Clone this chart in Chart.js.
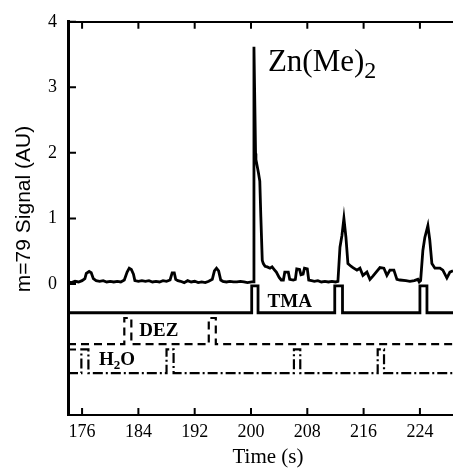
<!DOCTYPE html>
<html>
<head>
<meta charset="utf-8">
<script src="https://cdn.jsdelivr.net/npm/chart.js@4.4.1/dist/chart.umd.min.js"></script>
<style>
  body { margin: 0; background: #fff; }
</style>
</head>
<body>
<canvas id="chart" width="453" height="471"></canvas>
<script>
// m=79 signal trace
var signalTime = [174.0, 174.5, 175.0, 175.5, 176.0, 176.4, 176.6, 177.0, 177.3, 177.6, 178.0, 178.5, 179.0, 179.5,
  180.0, 180.5, 181.0, 181.5, 182.0, 182.4, 182.7, 183.0, 183.3, 183.5, 184.0, 184.5, 185.0, 185.5, 186.0, 186.5,
  187.0, 187.5, 188.0, 188.5, 188.8, 189.1, 189.3, 189.6, 190.0, 190.5, 191.0, 191.5, 192.0, 192.5, 193.0, 193.5,
  194.0, 194.5, 194.8, 195.1, 195.4, 195.7, 196.0, 196.5, 197.0, 197.5, 198.0, 198.5, 199.0, 199.5, 200.1, 200.4,
  200.42, 200.65, 200.7, 201.05, 201.25, 201.4, 201.6, 201.75, 202.0, 202.3, 202.7, 203.0, 203.3, 203.6, 204.0,
  204.3, 204.6, 204.8, 205.3, 205.5, 206.0, 206.3, 206.5, 206.9, 207.1, 207.4, 207.6, 208.0, 208.2, 208.6, 209.0,
  209.5, 210.0, 210.5, 211.0, 211.5, 212.0, 212.35, 212.64, 212.92, 213.2, 213.49, 213.77, 214.2, 214.48, 215.05,
  215.48, 215.9, 216.47, 216.9, 217.32, 218.32, 218.88, 219.31, 219.74, 220.3, 220.73, 221.16, 222.0, 222.58,
  223.2, 223.71, 223.9, 224.1, 224.42, 224.7, 225.13, 225.4, 225.7, 226.13, 226.84, 227.26, 227.83, 228.26, 228.7];
var signalValue = [0.03, 0.02, 0.04, 0.03, 0.05, 0.08, 0.16, 0.19, 0.17, 0.08, 0.05, 0.04, 0.05, 0.03,
  0.04, 0.03, 0.04, 0.03, 0.06, 0.18, 0.24, 0.22, 0.15, 0.05, 0.04, 0.05, 0.04, 0.05, 0.03, 0.04,
  0.03, 0.05, 0.04, 0.06, 0.17, 0.17, 0.07, 0.05, 0.04, 0.02, 0.05, 0.03, 0.04, 0.02, 0.03, 0.02,
  0.04, 0.07, 0.20, 0.24, 0.20, 0.06, 0.04, 0.03, 0.04, 0.03, 0.03, 0.04, 0.03, 0.02, 0.03, 0.03,
  3.62, 1.99, 1.90, 1.70, 1.57, 1.02, 0.36, 0.31, 0.27, 0.26, 0.24, 0.26, 0.22, 0.18, 0.10,
  0.06, 0.06, 0.18, 0.18, 0.07, 0.06, 0.07, 0.23, 0.22, 0.14, 0.15, 0.24, 0.23, 0.06, 0.05, 0.04,
  0.05, 0.03, 0.04, 0.03, 0.04, 0.03, 0.04, 0.56, 0.74, 1.00, 0.71, 0.31, 0.27, 0.25, 0.21,
  0.24, 0.13, 0.18, 0.07, 0.12, 0.25, 0.24, 0.13, 0.21, 0.21, 0.07, 0.06, 0.05, 0.04,
  0.05, 0.07, 0.03, 0.05, 0.51, 0.71, 0.89, 0.67, 0.31, 0.24, 0.24, 0.21, 0.09, 0.18, 0.20];

// precursor pulse traces
var tmaTime = [174, 200.1, 200.1, 201.0, 201.0, 211.9, 211.9, 213.0, 213.0, 224.0, 224.0, 225.0, 225.0, 228.7];
var tmaValue = [-0.44, -0.44, -0.03, -0.03, -0.44, -0.44, -0.03, -0.03, -0.44, -0.44, -0.03, -0.03, -0.44, -0.44];
var dezTime = [174, 182.0, 182.0, 183.0, 183.0, 194.0, 194.0, 195.0, 195.0, 228.7];
var dezValue = [-0.92, -0.92, -0.52, -0.52, -0.92, -0.92, -0.52, -0.52, -0.92, -0.92];
var h2oTime = [174, 175.9, 175.9, 176.9, 176.9, 188.0, 188.0, 189.0, 189.0, 206.1, 206.1, 207.0, 207.0,
  218.0, 218.0, 218.9, 218.9, 228.7];
var h2oValue = [-1.36, -1.36, -1.0, -1.0, -1.36, -1.36, -1.0, -1.0, -1.36, -1.36, -1.0, -1.0, -1.36,
  -1.36, -1.0, -1.0, -1.36, -1.36];

var xTicks = [176, 184, 192, 200, 208, 216, 224];
var yTicks = [-2, -1, 0, 1, 2, 3, 4];

function points(xs, ys) {
    return xs.map(function (v, i) { return {x: v, y: ys[i]}; });
}

var serif = '"Liberation Serif", "Times New Roman", serif';

var decor = {
    id: 'decor',
    afterDraw: function (chart) {
        var ctx = chart.ctx, a = chart.chartArea;
        var x = chart.scales.x, y = chart.scales.y;
        ctx.save();
        ctx.strokeStyle = '#000';
        ctx.lineWidth = 2;
        ctx.beginPath();
        xTicks.forEach(function (v) {
            var px = x.getPixelForValue(v);
            ctx.moveTo(px, a.bottom);
            ctx.lineTo(px, a.bottom - 7);
            ctx.moveTo(px, a.top);
            ctx.lineTo(px, a.top + 7);
        });
        yTicks.slice(1).forEach(function (v) {
            var py = y.getPixelForValue(v);
            ctx.moveTo(a.left, py);
            ctx.lineTo(a.left + 8, py);
        });
        ctx.stroke();

        ctx.fillStyle = '#000';
        ctx.textBaseline = 'alphabetic';
        ctx.textAlign = 'left';

        // Zn(Me)2
        var zx = x.getPixelForValue(202.4), zy = y.getPixelForValue(3.25);
        ctx.font = '31px ' + serif;
        ctx.fillText('Zn(Me)', zx, zy);
        var w = ctx.measureText('Zn(Me)').width;
        ctx.font = '24px ' + serif;
        ctx.fillText('2', zx + w, zy + 7);

        ctx.textBaseline = 'middle';
        ctx.font = 'bold 19px ' + serif;
        ctx.textAlign = 'center';
        ctx.fillText('TMA', x.getPixelForValue(205.5), y.getPixelForValue(-0.28));
        ctx.fillText('DEZ', x.getPixelForValue(186.9), y.getPixelForValue(-0.72));

        ctx.textAlign = 'left';
        var hx = x.getPixelForValue(178.4), hy = y.getPixelForValue(-1.16);
        ctx.fillText('H', hx, hy);
        var hw = ctx.measureText('H').width;
        ctx.font = 'bold 13px ' + serif;
        ctx.fillText('2', hx + hw, hy + 6);
        var sw = ctx.measureText('2').width;
        ctx.font = 'bold 19px ' + serif;
        ctx.fillText('O', hx + hw + sw, hy);

        // axis titles
        ctx.font = '21px ' + serif;
        ctx.textAlign = 'center';
        ctx.fillText('Time (s)', 268, 457);

        ctx.translate(24, 209);
        ctx.rotate(-Math.PI / 2);
        ctx.font = '21px "Liberation Sans", Arial, sans-serif';
        ctx.fillText('m=79 Signal (AU)', 0, 0);
        ctx.restore();
    }
};

new Chart(document.getElementById('chart'), {
    type: 'line',
    data: {
        datasets: [{
            data: points(signalTime, signalValue),
            borderColor: '#000',
            borderWidth: 2.8
        }, {
            data: points(tmaTime, tmaValue),
            borderColor: '#000',
            borderWidth: 2.8
        }, {
            data: points(dezTime, dezValue),
            borderColor: '#000',
            borderWidth: 2.2,
            borderDash: [8, 5]
        }, {
            data: points(h2oTime, h2oValue),
            borderColor: '#000',
            borderWidth: 2.2,
            borderDash: [10, 3, 2, 3]
        }]
    },
    options: {
        responsive: false,
        animation: false,
        layout: {padding: {top: 21, left: 0, right: 0, bottom: 0}},
        elements: {
            point: {radius: 0},
            line: {tension: 0, fill: false}
        },
        plugins: {
            legend: {display: false},
            tooltip: {enabled: false}
        },
        scales: {
            x: {
                type: 'linear',
                min: 174,
                max: 228.7,
                afterBuildTicks: function (s) { s.ticks = xTicks.map(function (v) { return {value: v}; }); },
                afterFit: function (s) { s.height = 56; },
                grid: {display: false, drawTicks: false},
                border: {display: true, color: '#000', width: 2},
                ticks: {
                    color: '#000',
                    padding: 6,
                    maxRotation: 0,
                    font: {family: serif, size: 18}
                }
            },
            x2: {
                type: 'linear',
                position: 'top',
                min: 174,
                max: 228.7,
                afterFit: function (s) { s.height = 0; },
                grid: {display: false, drawTicks: false},
                border: {display: true, color: '#000', width: 2},
                ticks: {display: false}
            },
            y: {
                type: 'linear',
                min: -2,
                max: 4,
                afterBuildTicks: function (s) { s.ticks = yTicks.map(function (v) { return {value: v}; }); },
                afterFit: function (s) { s.width = 68; },
                grid: {display: false, drawTicks: false},
                border: {display: true, color: '#000', width: 3},
                ticks: {
                    color: '#000',
                    padding: 11,
                    font: {family: serif, size: 18},
                    callback: function (v) { return v >= 0 ? v : ''; }
                }
            }
        }
    },
    plugins: [decor]
});
</script>
</body>
</html>
